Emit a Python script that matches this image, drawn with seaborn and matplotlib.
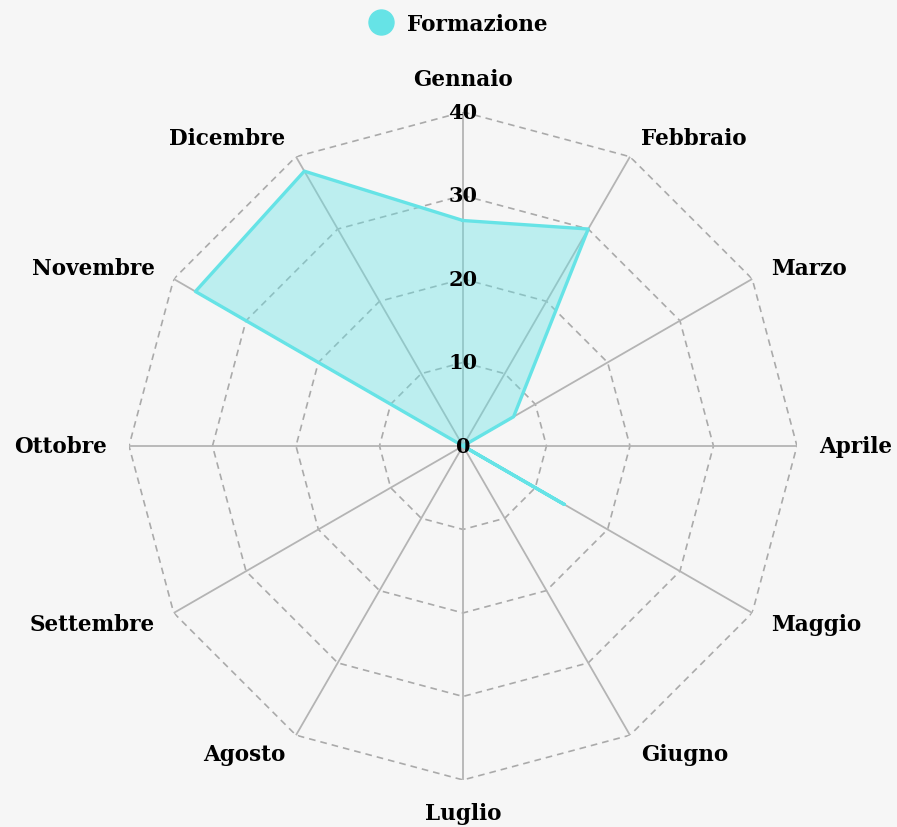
import numpy as np
import pandas as pd
import seaborn as sns
import matplotlib.pyplot as plt
from matplotlib.lines import Line2D

months = ['Gennaio', 'Febbraio', 'Marzo', 'Aprile', 'Maggio', 'Giugno',
          'Luglio', 'Agosto', 'Settembre', 'Ottobre', 'Novembre', 'Dicembre']
formazione = [27, 30, 7, 0, 14, 0, 0, 0, 0, 0, 37, 38]
ticks = [0, 10, 20, 30, 40]
series_name = 'Formazione'

bg = '#f6f6f6'
cyan = '#66e3e6'
fnt = 'DejaVu Serif'

sns.set_theme(style='white')
plt.rcParams['font.family'] = [fnt, 'DejaVu Sans']

fig = plt.figure(figsize=(8.97, 8.28), dpi=100, facecolor=bg)
ax = fig.add_axes([0.1438, 0.0568, 0.7447, 0.8068], projection='polar')
ax.set_facecolor('none')
ax.set_theta_offset(np.pi / 2)
ax.set_theta_direction(-1)
ax.grid(False)
ax.spines['polar'].set_visible(False)

n = len(months)
angles = np.arange(n) * 2 * np.pi / n

# polygon grid + spokes
ring = np.append(angles, 2 * np.pi)
for t in ticks[1:]:
    ax.plot(ring, [t] * len(ring), color='#aaaaaa', lw=1.2, ls=(0, (4, 3)), zorder=1)
for a in angles:
    ax.plot([a, a], [0, 40], color='#b4b4b4', lw=1.3, zorder=1)

# close the polygon (last point back at Gennaio)
df = pd.DataFrame({'angle': ring, 'value': formazione + formazione[:1]})
ax.fill(df['angle'], df['value'], color=cyan, alpha=0.4, lw=0, zorder=2)
sns.lineplot(data=df, x='angle', y='value', sort=False, estimator=None, color=cyan,
             lw=2.4, ax=ax, zorder=3, legend=False)
ax.set_xlabel('')
ax.set_ylabel('')
ax.set_xticks([])
ax.set_yticks([])
ax.set_ylim(0, 40)

for a, m in zip(angles, months):
    s, c = np.sin(a), np.cos(a)
    ha = 'left' if s > 0.01 else ('right' if s < -0.01 else 'center')
    va = 'bottom' if c > 0.99 else ('top' if c < -0.99 else 'center')
    ax.text(a, 42.6, m, ha=ha, va=va, fontsize=15.5, color='black', fontweight='bold')

for t in ticks:
    ax.text(0, t, str(t), ha='center', va='center', fontsize=15, color='black',
            fontweight='bold', zorder=5)

handle = Line2D([], [], marker='o', ls='none', markersize=18, markerfacecolor=cyan,
                markeredgecolor=cyan)
leg = fig.legend([handle], [series_name], loc='center', bbox_to_anchor=(0.506, 0.97),
                 frameon=False, prop={'size': 15.5, 'weight': 'bold'}, handletextpad=0.2)
for txt in leg.get_texts():
    txt.set_color('black')

fig.savefig('out.png', dpi=100, facecolor=bg)
